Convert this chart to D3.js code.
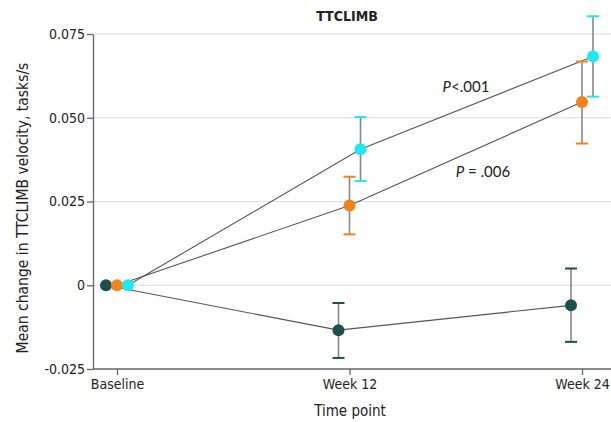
<!DOCTYPE html>
<html>
<head>
<meta charset="utf-8">
<script src="https://cdn.jsdelivr.net/npm/d3@7"></script>
<style>
  body { margin: 0; background: #fff; }
  text { font-family: "DejaVu Sans Condensed", "DejaVu Sans", sans-serif; }
  text.pval { font-family: Lato, "Open Sans", sans-serif; }
</style>
</head>
<body>
<div id="chart"></div>
<script>
// data
const timePoints = ["Baseline", "Week 12", "Week 24"]
const groups = ["g1", "g2", "g3"]
const colors = ["#1f4f4d", "#f7821b", "#1ee8f2"]
const meanG1 = [0, -0.0134, -0.0060]
const lowG1 = [0, -0.0217, -0.0169]
const highG1 = [0, -0.0053, 0.0050]
const meanG2 = [0, 0.0238, 0.0547]
const lowG2 = [0, 0.0152, 0.0423]
const highG2 = [0, 0.0324, 0.0668]
const meanG3 = [0, 0.0406, 0.0683]
const lowG3 = [0, 0.0311, 0.0563]
const highG3 = [0, 0.0502, 0.0803]
const yTicks = [-0.025, 0, 0.025, 0.050, 0.075]
const yTickLabels = ["-0.025", "0", "0.025", "0.050", "0.075"]

const series = [
    {means: meanG1, low: lowG1, high: highG1},
    {means: meanG2, low: lowG2, high: highG2},
    {means: meanG3, low: lowG3, high: highG3}
]

const W = 611, H = 422
const margin = {top: 34, right: 0, bottom: 53, left: 93}

const svg = d3.select("#chart")
    .append("svg")
        .attr("width", W)
        .attr("height", H)

const x = d3.scalePoint()
    .domain(timePoints)
    .range([117, 582])

const off = d3.scalePoint()
    .domain(groups)
    .range([-11, 11])

const y = d3.scaleLinear()
    .domain([-0.025, 0.075])
    .range([H - margin.bottom, margin.top])

// gridlines
svg.append("g")
    .selectAll("line")
    .data(yTicks.filter(d => d > -0.025))
    .join("line")
        .attr("x1", margin.left)
        .attr("x2", W)
        .attr("y1", d => y(d))
        .attr("y2", d => y(d))
        .attr("stroke", "#dcdcdc")
        .attr("stroke-width", 1.2)

// y axis
const yAxis = svg.append("g")
    .attr("transform", `translate(${margin.left},0)`)
    .call(d3.axisLeft(y).tickValues(yTicks).tickFormat((d, i) => yTickLabels[i]).tickSize(6).tickSizeOuter(0))
yAxis.select(".domain").attr("stroke", "#666").attr("stroke-width", 1.3)
yAxis.selectAll(".tick line").attr("stroke", "#666").attr("stroke-width", 1.3)
yAxis.selectAll("text")
    .attr("fill", "#222")
    .style("font-size", "14px")
    .attr("x", -8)

// x axis
const xAxis = svg.append("g")
    .attr("transform", `translate(0,${y(-0.025)})`)
    .call(d3.axisBottom(x).tickSize(6).tickSizeOuter(0))
xAxis.select(".domain").attr("d", `M${margin.left},0H${W}`).attr("stroke", "#666").attr("stroke-width", 1.3)
xAxis.selectAll(".tick line").attr("stroke", "#666").attr("stroke-width", 1.3)
xAxis.selectAll("text")
    .attr("fill", "#222")
    .style("font-size", "14px")
    .attr("y", 10)

// connecting lines
const line = d3.line()
    .x(d => d.x)
    .y(d => d.y)

series.forEach((s, gi) => {
    const pts = timePoints.map((t, i) => ({x: x(t) + off(groups[gi]), y: y(s.means[i])}))
    svg.append("path")
        .attr("d", line(pts))
        .attr("fill", "none")
        .attr("stroke", "#555")
        .attr("stroke-width", 1.1)
})

// error bars and points
series.forEach((s, gi) => {
    const g = svg.append("g")
    timePoints.forEach((t, i) => {
        if (i === 0) return
        const cx = x(t) + off(groups[gi])
        g.append("line")
            .attr("x1", cx).attr("x2", cx)
            .attr("y1", y(s.low[i])).attr("y2", y(s.high[i]))
            .attr("stroke", "#888")
            .attr("stroke-width", 1.6)
        ;[s.low[i], s.high[i]].forEach(v => {
            g.append("line")
                .attr("x1", cx - 6).attr("x2", cx + 6)
                .attr("y1", y(v)).attr("y2", y(v))
                .attr("stroke", colors[gi])
                .attr("stroke-width", 2)
        })
    })
    g.selectAll("circle")
        .data(s.means)
        .join("circle")
            .attr("cx", (d, i) => x(timePoints[i]) + off(groups[gi]))
            .attr("cy", d => y(d))
            .attr("r", 6)
            .attr("fill", colors[gi])
})

// labels
svg.append("text")
    .attr("x", 347)
    .attr("y", 21)
    .attr("text-anchor", "middle")
    .style("font-size", "14px")
    .style("font-weight", "700")
    .attr("fill", "#222")
    .text("TTCLIMB")

svg.append("text")
    .attr("transform", `translate(28,208) rotate(-90)`)
    .attr("text-anchor", "middle")
    .style("font-size", "15.5px")
    .attr("fill", "#222")
    .text("Mean change in TTCLIMB velocity, tasks/s")

svg.append("text")
    .attr("x", 350)
    .attr("y", 416)
    .attr("text-anchor", "middle")
    .style("font-size", "15px")
    .attr("fill", "#222")
    .text("Time point")

const p1 = svg.append("text")
    .attr("class", "pval")
    .attr("x", 466)
    .attr("y", 92)
    .attr("text-anchor", "middle")
    .style("font-size", "15px")
    .attr("fill", "#222")
p1.append("tspan").style("font-style", "italic").text("P")
p1.append("tspan").text("<.001")

const p2 = svg.append("text")
    .attr("class", "pval")
    .attr("x", 483)
    .attr("y", 177)
    .attr("text-anchor", "middle")
    .style("font-size", "15px")
    .attr("fill", "#222")
p2.append("tspan").style("font-style", "italic").text("P")
p2.append("tspan").text(" = .006")
</script>
</body>
</html>
